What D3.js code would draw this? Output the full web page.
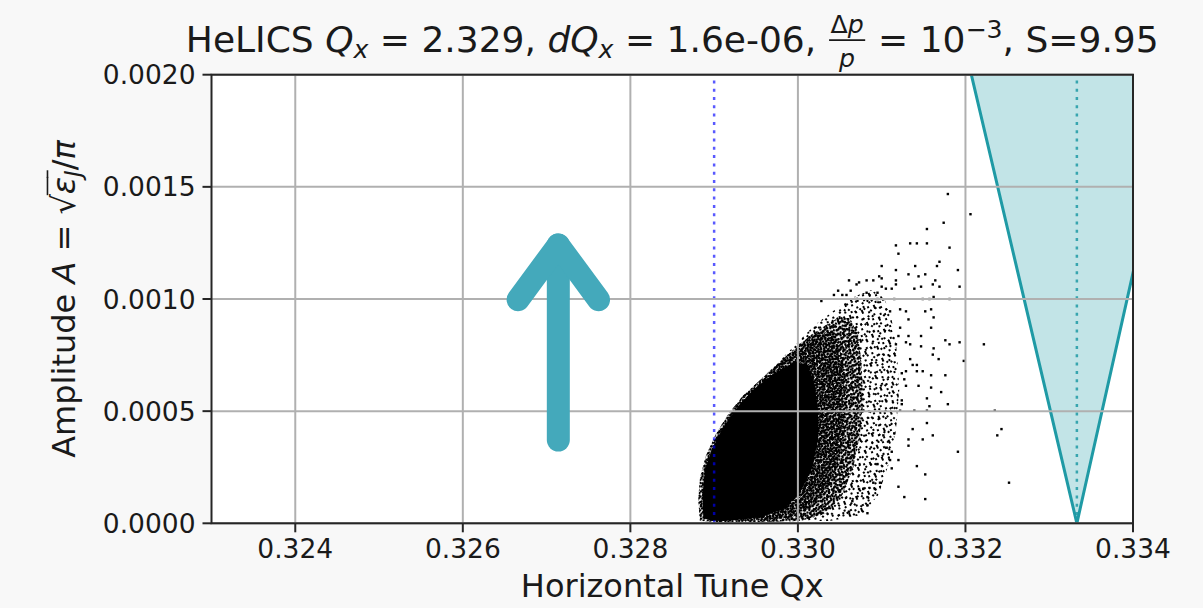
<!DOCTYPE html>
<html><head><meta charset="utf-8">
<script src="https://cdn.jsdelivr.net/npm/d3@7"></script>
<style>
body{margin:0;background:#f8f8f8;overflow:hidden;}
text{font-family:"DejaVu Sans",sans-serif;fill:#1a1a1a;}
</style>
</head><body>
<script>
// ---------------- data ----------------
const xTicks = [0.324, 0.326, 0.328, 0.330, 0.332, 0.334];
const yTicks = [0, 0.0005, 0.0010, 0.0015, 0.0020];
const xDomain = [0.323, 0.334];
const yDomain = [0, 0.002];
const workingPointQx = 0.329;          // blue dotted line
const resonanceQx = 0.33333;           // teal dotted line (1/3 resonance)
const stopbandA  = [0.002, 0, 0.002];
const stopbandQx = [0.33207, 0.33333, 0.33453];
// dense core of particle cloud [Qx, A]
const corePoly = [
 [0.32887,0.000024],[0.32886,0.000126],[0.32889,0.000238],[0.32897,0.000327],
 [0.32909,0.000416],[0.32925,0.000505],[0.32943,0.000581],[0.32961,0.000639],
 [0.32979,0.000683],[0.32997,0.000719],[0.33012,0.000706],[0.33020,0.000617],
 [0.33024,0.000505],[0.33024,0.000371],[0.33017,0.000247],[0.33003,0.000140],
 [0.32985,0.000068],[0.32957,0.000028],[0.32925,0.000015],[0.32897,0.000010]];
// very dense zone around the core
const midPoly = [
 [0.32884,0.000082],[0.32888,0.000238],[0.32897,0.000349],[0.32913,0.000461],
 [0.32933,0.000559],[0.32955,0.000639],[0.32979,0.000719],[0.33003,0.000795],
 [0.33024,0.000848],[0.33041,0.000862],[0.33050,0.000795],[0.33056,0.000639],
 [0.33056,0.000461],[0.33050,0.000304],[0.33038,0.000171],[0.33017,0.000073],
 [0.32991,0.000024],[0.32943,0.000010],[0.32895,0.000010]];
// dense speckled zone
const halo1Poly = [
 [0.32883,0.000010],[0.32881,0.000104],[0.32883,0.000202],[0.32890,0.000300],
 [0.32902,0.000398],[0.32917,0.000487],[0.32934,0.000568],[0.32955,0.000639],
 [0.32975,0.000710],[0.32997,0.000781],[0.33014,0.000835],[0.33032,0.000880],
 [0.33048,0.000915],[0.33062,0.000915],[0.33072,0.000839],[0.33076,0.000706],
 [0.33078,0.000550],[0.33074,0.000394],[0.33066,0.000247],[0.33053,0.000126],
 [0.33032,0.000041],[0.33003,0.000010],[0.32955,0.000006],[0.32907,0.000006]];
// sparse zone
const halo2Poly = [
 [0.32955,0.000639],[0.32991,0.000773],[0.33020,0.000884],[0.33044,0.000951],
 [0.33069,0.001013],[0.33088,0.001040],[0.33103,0.001004],[0.33112,0.000906],
 [0.33118,0.000773],[0.33121,0.000594],[0.33117,0.000416],[0.33108,0.000260],
 [0.33096,0.000126],[0.33076,0.000037],[0.33038,0.000010],[0.32991,0.000010],
 [0.32955,0.000010]];
// individual outlying particles [Qx, A]
const sparsePoints = [
 [0.33179,0.001468],[0.33206,0.001378],[0.33174,0.001340],[0.33154,0.001312],
 [0.33117,0.001239],[0.33134,0.001248],[0.33142,0.001248],[0.33154,0.001248],
 [0.33181,0.001229],[0.33120,0.001202],[0.33169,0.001166],[0.33166,0.001147],
 [0.33100,0.001147],[0.33140,0.001147],[0.33117,0.001129],[0.33191,0.001129],
 [0.33132,0.001110],[0.33144,0.001101],[0.33152,0.001110],[0.33097,0.001101],
 [0.33100,0.001092],[0.33061,0.001083],[0.33117,0.001083],[0.33164,0.001083],
 [0.33090,0.001083],[0.33082,0.001083],[0.33073,0.001074],[0.33070,0.001065],
 [0.33117,0.001065],[0.33161,0.001065],[0.33193,0.001055],[0.33169,0.001055],
 [0.33147,0.001055],[0.33100,0.001055],[0.33105,0.001046],[0.33139,0.001046],
 [0.33112,0.001046],[0.33048,0.001037],[0.33063,0.001037],[0.33095,0.001028],
 [0.33082,0.001028],[0.33053,0.001018],[0.33043,0.001018],[0.33058,0.001018],
 [0.33162,0.001009],[0.33157,0.001000],[0.33149,0.001000],[0.33181,0.001000],
 [0.33115,0.001000],[0.33028,0.000991],[0.33095,0.001000],[0.33070,0.001000],
 [0.33222,0.000798],[0.33193,0.000807],[0.33176,0.000816],[0.33181,0.000798],
 [0.33159,0.000954],[0.33152,0.000945],[0.33162,0.000918],[0.33159,0.000872],
 [0.33147,0.000835],[0.33147,0.000789],[0.33162,0.000780],[0.33132,0.000835],
 [0.33132,0.000909],[0.33129,0.000945],[0.33122,0.000954],[0.33122,0.000872],
 [0.33120,0.000835],[0.33129,0.000807],[0.33134,0.000798],[0.33117,0.000798],
 [0.33110,0.000945],[0.33198,0.000724],[0.33168,0.000732],[0.33161,0.000752],
 [0.33134,0.000732],[0.33142,0.000706],[0.33137,0.000706],[0.33149,0.000678],
 [0.33159,0.000660],[0.33176,0.000660],[0.33142,0.000678],[0.33144,0.000613],
 [0.33159,0.000605],[0.33171,0.000585],[0.33154,0.000557],[0.33179,0.000531],
 [0.33157,0.000522],[0.33154,0.000502],[0.33139,0.000502],[0.33235,0.000502],
 [0.33243,0.000420],[0.33238,0.000392],[0.33161,0.000392],[0.33154,0.000447],
 [0.33149,0.000374],[0.33137,0.000420],[0.33132,0.000374],[0.33132,0.000346],
 [0.33191,0.000319],[0.33142,0.000255],[0.33152,0.000218],[0.33252,0.000181],
 [0.33120,0.000163],[0.33127,0.000117],[0.33152,0.000108],[0.33112,0.000245],
 [0.33120,0.000282],[0.33110,0.000282],[0.33106,0.000337],[0.33102,0.000392],
 [0.33115,0.000401],[0.33098,0.000181],[0.33090,0.000181],[0.33092,0.000153],
 [0.33078,0.000153],[0.33073,0.000153],[0.33083,0.000117],[0.33065,0.000099],
 [0.33083,0.000080],[0.33061,0.000052],[0.33083,0.000045],[0.33095,0.000264],
 [0.33112,0.000319],[0.33122,0.000502],[0.33124,0.000531],[0.33124,0.000548],
 [0.33129,0.000613],[0.33127,0.000642],[0.33124,0.000669],[0.33129,0.000678]];
// arrow annotation [Qx, A]
const arrowShaft = [[0.32714,0.000371],[0.32714,0.001241]];
const arrowHead  = [[0.32666,0.000997],[0.32714,0.001241],[0.32762,0.000997]];

// ---------------- layout ----------------
const W = 1203, H = 608;
const L = 211.5, R = 1133, T = 74.7, B = 523.3;
const teal = "#1f9aa5";

const svg = d3.select("body").append("svg").attr("width", W).attr("height", H);
svg.append("rect").attr("width", W).attr("height", H).attr("fill", "#f8f8f8");

const x = d3.scaleLinear().domain(xDomain).range([L, R]);
const y = d3.scaleLinear().domain(yDomain).range([B, T]);

const defs = svg.append("defs");
defs.append("clipPath").attr("id", "clip").append("rect")
  .attr("x", L).attr("y", T).attr("width", R - L).attr("height", B - T);
function pattern(id, size, rot, cells, s) {
  const p = defs.append("pattern").attr("id", id).attr("patternUnits", "userSpaceOnUse")
    .attr("width", size).attr("height", size).attr("patternTransform", `rotate(${rot})`);
  cells.forEach(d => p.append("rect").attr("x", d[0]).attr("y", d[1]).attr("width", s).attr("height", s).attr("fill", "#000"));
}
pattern("denseA", 7, 17, [[0,0],[4,1],[2,3],[5,4],[1,5]], 2.2);
pattern("denseB", 9, -31, [[1,1],[6,2],[3,5],[7,7]], 2.2);
pattern("denseC", 6, 58, [[0,1],[3,0],[2,3],[5,4],[1,5]], 2.1);
pattern("sparseA", 13, -23, [[1,2],[8,0],[5,6],[11,8],[2,10],[8,11]], 2);
pattern("sparseB", 11, 41, [[2,3],[7,6],[4,9]], 2);

svg.append("rect").attr("x", L).attr("y", T).attr("width", R - L).attr("height", B - T).attr("fill", "#fff");

const plot = svg.append("g").attr("clip-path", "url(#clip)");

// stopband
const sb = stopbandA.map((a, i) => [stopbandQx[i], a]);
const line = d3.line().x(d => x(d[0])).y(d => y(d[1]));
plot.append("path").attr("d", line(sb) + "Z").attr("fill", teal).attr("fill-opacity", 0.27);

// grid
const grid = svg.append("g").attr("stroke", "#b0b0b0").attr("stroke-width", 2);
xTicks.forEach(t => grid.append("line").attr("x1", x(t)).attr("x2", x(t)).attr("y1", T).attr("y2", B));
yTicks.forEach(t => grid.append("line").attr("x1", L).attr("x2", R).attr("y1", y(t)).attr("y2", y(t)));

plot.append("path").attr("d", line(sb)).attr("fill", "none").attr("stroke", teal).attr("stroke-width", 3);
plot.append("line").attr("x1", x(resonanceQx)).attr("x2", x(resonanceQx)).attr("y1", y(0)).attr("y2", T)
  .attr("stroke", teal).attr("stroke-width", 2.5).attr("stroke-dasharray", "3,5.3").attr("stroke-opacity", 0.85);

// particle cloud
["sparseA", "sparseB"].forEach(p => plot.append("path").attr("d", line(halo2Poly) + "Z").attr("fill", `url(#${p})`));
["denseA", "denseB"].forEach(p => plot.append("path").attr("d", line(halo1Poly) + "Z").attr("fill", `url(#${p})`));
plot.append("path").attr("d", line(midPoly) + "Z").attr("fill", "url(#denseC)");
plot.append("path").attr("d", line(corePoly) + "Z").attr("fill", "#000");
plot.selectAll("rect.pt").data(sparsePoints).enter().append("rect").attr("class", "pt")
  .attr("x", d => x(d[0]) - 1.2).attr("y", d => y(d[1]) - 1.2).attr("width", 2.4).attr("height", 2.4).attr("fill", "#000");

// working point line
plot.append("line").attr("x1", x(workingPointQx)).attr("x2", x(workingPointQx)).attr("y1", B).attr("y2", T)
  .attr("stroke", "#0000ff").attr("stroke-opacity", 0.65).attr("stroke-width", 2.5).attr("stroke-dasharray", "3,5.3");

// arrow
const arr = svg.append("g").attr("fill", "none").attr("stroke", "#44a9bb").attr("stroke-width", 23)
  .attr("stroke-linecap", "round").attr("stroke-linejoin", "round");
arr.append("path").attr("d", line(arrowShaft));
arr.append("path").attr("d", line(arrowHead));

// spines
svg.append("rect").attr("x", L).attr("y", T).attr("width", R - L).attr("height", B - T)
  .attr("fill", "none").attr("stroke", "#262626").attr("stroke-width", 2);

// ticks
const tk = svg.append("g");
xTicks.forEach(t => {
  tk.append("line").attr("x1", x(t)).attr("x2", x(t)).attr("y1", B).attr("y2", B + 9)
    .attr("stroke", "#262626").attr("stroke-width", 2);
  tk.append("text").attr("x", x(t)).attr("y", B + 35).attr("text-anchor", "middle")
    .attr("font-size", 26.5).text(d3.format(".3f")(t));
});
yTicks.forEach(t => {
  tk.append("line").attr("x1", L - 9).attr("x2", L).attr("y1", y(t)).attr("y2", y(t))
    .attr("stroke", "#262626").attr("stroke-width", 2);
  tk.append("text").attr("x", L - 16).attr("y", y(t) + 9.5).attr("text-anchor", "end")
    .attr("font-size", 26.5).text(d3.format(".4f")(t));
});

// math-ish row layout helper
function row(g, pieces, size) {
  let cx = 0;
  pieces.forEach(p => {
    if (p.frac) {
      const fs = size * 0.7;
      const n = g.append("text").attr("y", -size * 0.52).attr("font-size", fs);
      p.num.forEach(q => n.append("tspan").attr("font-style", q.it ? "italic" : "normal").text(q.t));
      const d = g.append("text").attr("y", size * 0.42).attr("font-size", fs).attr("font-style", "italic").text(p.den);
      const wn = n.node().getComputedTextLength(), wd = d.node().getComputedTextLength();
      const w = Math.max(wn, wd) + size * 0.16;
      n.attr("x", cx + (w - wn) / 2); d.attr("x", cx + (w - wd) / 2);
      g.append("line").attr("x1", cx + size * 0.04).attr("x2", cx + w - size * 0.04)
        .attr("y1", -size * 0.33).attr("y2", -size * 0.33).attr("stroke", "#1a1a1a").attr("stroke-width", size * 0.045);
      cx += w;
    } else {
      const t = g.append("text").attr("x", cx).attr("y", p.dy || 0)
        .attr("font-size", size * (p.s || 1)).attr("font-style", p.it ? "italic" : "normal").text(p.t);
      const w = t.node().getComputedTextLength();
      if (p.over) g.append("line").attr("x1", cx - 1).attr("x2", cx + w + (p.overExtra || 0))
        .attr("y1", -size * 0.86).attr("y2", -size * 0.86).attr("stroke", "#1a1a1a").attr("stroke-width", size * 0.05);
      cx += w;
    }
  });
  return cx;
}
const sp = "\u00a0";

// title
const tg = svg.append("g");
const tw = row(tg, [
  {t: "HeLICS" + sp}, {t: "Q", it: 1}, {t: "x", it: 1, s: 0.7, dy: 6}, {t: sp + "=" + sp + "2.329," + sp},
  {t: "d", it: 1}, {t: "Q", it: 1}, {t: "x", it: 1, s: 0.7, dy: 6}, {t: sp + "=" + sp + "1.6e-06," + sp},
  {frac: 1, num: [{t: "Δ"}, {t: "p", it: 1}], den: "p"},
  {t: sp + "=" + sp + "10"}, {t: "−3", s: 0.7, dy: -14}, {t: "," + sp + "S=9.95"}
], 36);
tg.attr("transform", `translate(${(L + R) / 2 - tw / 2},52)`);

// x label
svg.append("text").attr("x", (L + R) / 2).attr("y", 597).attr("text-anchor", "middle")
  .attr("font-size", 32).text("Horizontal Tune Qx");

// y label
const yg = svg.append("g");
const yw = row(yg, [
  {t: "Amplitude" + sp}, {t: "A", it: 1}, {t: sp + "=" + sp}, {t: "√"},
  {t: "ε", it: 1, over: 1}, {t: "J", it: 1, s: 0.7, dy: 6, over: 1}, {t: "/"}, {t: "π", it: 1}
], 32);
yg.attr("transform", `translate(75,${(T + B) / 2 + yw / 2}) rotate(-90)`);
</script>
</body></html>
